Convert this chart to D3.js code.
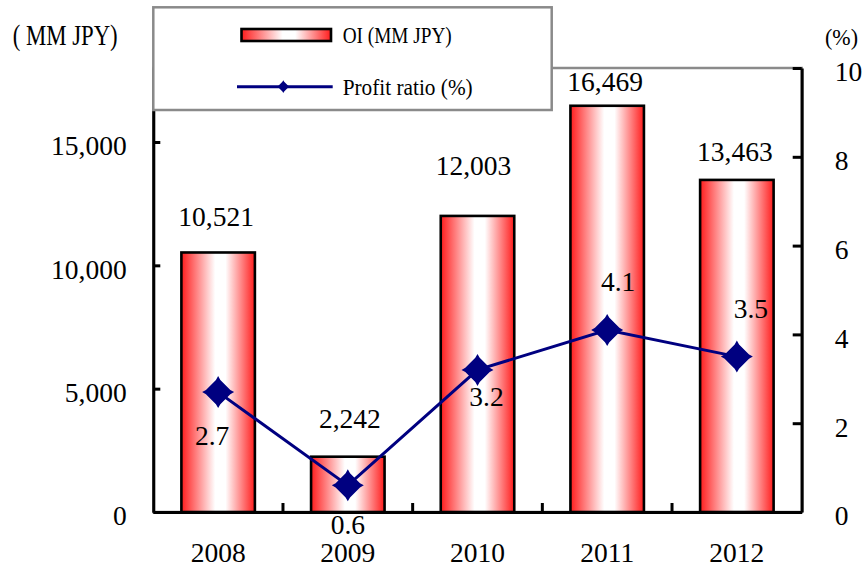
<!DOCTYPE html>
<html>
<head>
<meta charset="utf-8">
<script src="https://cdn.jsdelivr.net/npm/d3@7"></script>
<style>
  html, body { margin: 0; padding: 0; background: #fff; }
  svg { display: block; }
  text { font-family: "Liberation Serif", "Times New Roman", serif; fill: #000; }
</style>
</head>
<body>
<svg id="chart" width="865" height="567"></svg>
<script>
// Operating income (bars, left axis) and profit ratio (line, right axis)
const years = ['2008', '2009', '2010', '2011', '2012'];
const oiValues = [10521, 2242, 12003, 16469, 13463];
const ratioValues = [2.7, 0.6, 3.2, 4.1, 3.5];
const leftTicks = [0, 5000, 10000, 15000];
const rightTicks = [0, 2, 4, 6, 8, 10];

// Hand-placed label nudges: [dx, lift] for bar labels, [dx, dy] for ratio labels
const barLabelNudge = [[-2, 36], [2, 38], [-4, 50], [-2, 24], [-2, 28]];
const ratioLabelNudge = [[-6, 44], [0, 39], [9, 27], [11, -48], [14, -48]];

const svg = d3.select('#chart');
const plot = { left: 153.3, right: 801.7, top: 68, bottom: 512 };
const fs = 27.5;

const x = d3.scaleBand().domain(years).range([plot.left, plot.right]).padding(0);
const yL = d3.scaleLinear().domain([0, 18000]).range([plot.bottom, plot.top]);
const yR = d3.scaleLinear().domain([0, 10]).range([plot.bottom, plot.top]);

// Bar gradient: red edges fading to white in the middle
const defs = svg.append('defs');
const grad = defs.append('linearGradient').attr('id', 'barGrad')
  .attr('x1', '0').attr('x2', '1').attr('y1', '0').attr('y2', '0');
[[0, '#ff1c1c'], [0.46, '#ffffff'], [0.6, '#ffffff'], [1, '#ff1c1c']].forEach(([o, c]) =>
  grad.append('stop').attr('offset', o).attr('stop-color', c));

// Plot area frame (grey), axes drawn over it in black
svg.append('rect')
  .attr('x', plot.left).attr('y', plot.top)
  .attr('width', plot.right - plot.left).attr('height', plot.bottom - plot.top)
  .attr('fill', 'none').attr('stroke', '#8a8a8a').attr('stroke-width', 2.5);

// Bars
const barW = 73.5;
svg.append('g').selectAll('rect').data(oiValues).join('rect')
  .attr('x', (d, i) => x(years[i]) + x.bandwidth() / 2 - barW / 2)
  .attr('y', d => yL(d))
  .attr('width', barW)
  .attr('height', d => yL(0) - yL(d))
  .attr('fill', 'url(#barGrad)')
  .attr('stroke', '#000').attr('stroke-width', 2.6);

// Axes
function styleAxis(g) {
  g.select('.domain').attr('stroke', '#000').attr('stroke-width', 3);
  g.selectAll('.tick line').attr('stroke', '#000').attr('stroke-width', 3);
  g.selectAll('.tick text')
    .attr('font-family', '"Liberation Serif", "Times New Roman", serif')
    .attr('font-size', fs).attr('fill', '#000');
  g.attr('font-family', null).attr('font-size', null);
}

svg.append('g')
  .attr('transform', `translate(${plot.left},0)`)
  .call(d3.axisLeft(yL).tickValues(leftTicks).tickFormat(d3.format(','))
    .tickSizeInner(-7).tickSizeOuter(0).tickPadding(26.6))
  .call(styleAxis)
  .call(g => g.selectAll('.tick text').attr('dy', '0.47em'));

svg.append('g')
  .attr('transform', `translate(${plot.right},0)`)
  .call(d3.axisRight(yR).tickValues(rightTicks).tickFormat(d3.format('d'))
    .tickSizeInner(-9).tickSizeOuter(0).tickPadding(33))
  .call(styleAxis)
  .call(g => g.selectAll('.tick text').attr('dy', '0.47em'));

const xAxis = svg.append('g')
  .attr('transform', `translate(0,${plot.bottom})`)
  .call(d3.axisBottom(x).tickSize(0).tickSizeOuter(0).tickPadding(0))
  .call(styleAxis)
  .call(g => g.selectAll('.tick text').attr('dy', null).attr('y', 50));
// Category separators pointing up from the baseline
xAxis.selectAll('.sep').data(years.slice(1)).join('line')
  .attr('class', 'sep')
  .attr('x1', d => x(d)).attr('x2', d => x(d))
  .attr('y1', 0).attr('y2', -9)
  .attr('stroke', '#000').attr('stroke-width', 3);

// Bar value labels
svg.append('g').selectAll('text').data(oiValues).join('text')
  .attr('x', (d, i) => x(years[i]) + x.bandwidth() / 2 + barLabelNudge[i][0])
  .attr('y', (d, i) => yL(d) - barLabelNudge[i][1])
  .attr('dy', '0.34em')
  .attr('text-anchor', 'middle')
  .attr('font-size', fs)
  .text(d => d3.format(',')(d));

// Profit ratio line
const cx = i => x(years[i]) + x.bandwidth() / 2;
const navy = '#000080';
svg.append('path')
  .datum(ratioValues)
  .attr('d', d3.line().x((d, i) => cx(i)).y(d => yR(d)))
  .attr('fill', 'none').attr('stroke', navy).attr('stroke-width', 3);

// Diamond marker with short pointed tips
const markerPath = 'M0,-16L2.2,-12.2L12.2,-2.2L16,0L12.2,2.2L2.2,12.2L0,16L-2.2,12.2L-12.2,2.2L-16,0L-12.2,-2.2L-2.2,-12.2Z';
svg.append('g').selectAll('path').data(ratioValues).join('path')
  .attr('transform', (d, i) => `translate(${cx(i)},${yR(d)})`)
  .attr('d', markerPath)
  .attr('fill', navy);

svg.append('g').selectAll('text').data(ratioValues).join('text')
  .attr('x', (d, i) => cx(i) + ratioLabelNudge[i][0])
  .attr('y', (d, i) => yR(d) + ratioLabelNudge[i][1])
  .attr('dy', '0.34em')
  .attr('text-anchor', 'middle')
  .attr('font-size', fs)
  .text(d => d3.format('.1f')(d));

// Axis unit captions
svg.append('text').attr('x', 12.7).attr('y', 45)
  .attr('font-size', 29).attr('textLength', 105).attr('lengthAdjust', 'spacingAndGlyphs')
  .text('( MM JPY)');
svg.append('text').attr('x', 825).attr('y', 45)
  .attr('font-size', 24).attr('textLength', 33).attr('lengthAdjust', 'spacingAndGlyphs')
  .text('(%)');

// Legend
const lg = svg.append('g');
lg.append('rect')
  .attr('x', 153.3).attr('y', 7.3).attr('width', 398.4).attr('height', 102.7)
  .attr('fill', '#fff').attr('stroke', '#8a8a8a').attr('stroke-width', 2.5);
lg.append('rect')
  .attr('x', 241.5).attr('y', 29).attr('width', 89.5).attr('height', 12)
  .attr('fill', 'url(#barGrad)').attr('stroke', '#000').attr('stroke-width', 2.6);
lg.append('text').attr('x', 342.7).attr('y', 42.7)
  .attr('font-size', 24).attr('textLength', 109).attr('lengthAdjust', 'spacingAndGlyphs')
  .text('OI (MM JPY)');
lg.append('line')
  .attr('x1', 237).attr('x2', 332.7).attr('y1', 86.7).attr('y2', 86.7)
  .attr('stroke', navy).attr('stroke-width', 3);
lg.append('path')
  .attr('transform', 'translate(283.3,86.7) scale(0.4)')
  .attr('d', markerPath).attr('fill', navy);
lg.append('text').attr('x', 342.7).attr('y', 95)
  .attr('font-size', 24).attr('textLength', 130).attr('lengthAdjust', 'spacingAndGlyphs')
  .text('Profit ratio (%)');
</script>
</body>
</html>
